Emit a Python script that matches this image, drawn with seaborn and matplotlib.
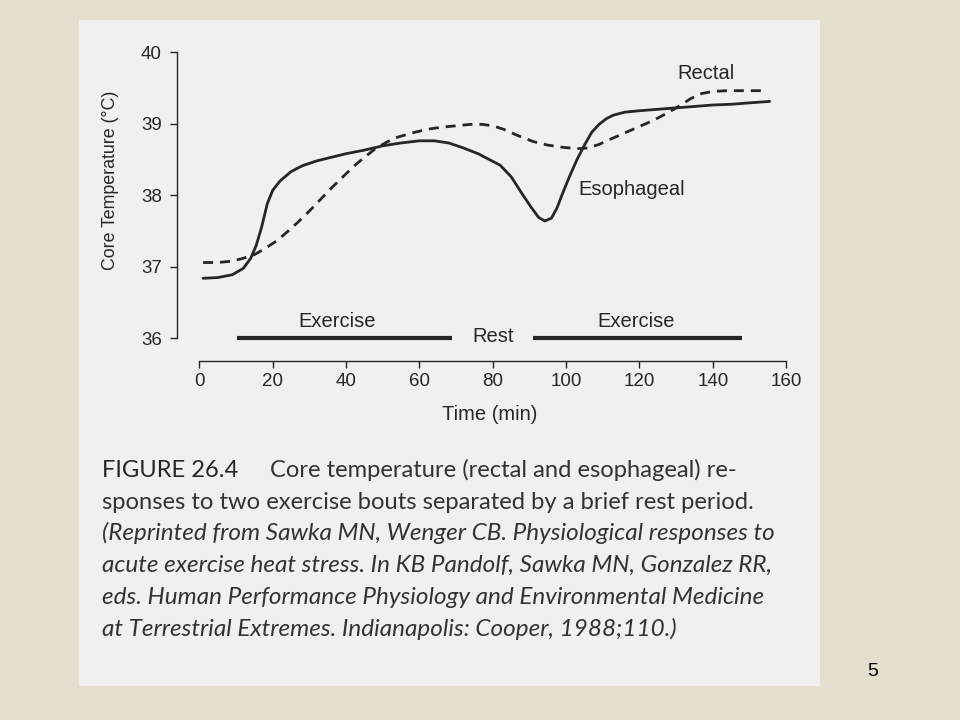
import matplotlib
matplotlib.use("Agg")
import matplotlib.pyplot as plt
import seaborn as sns

# esophageal temperature (solid line)
esoph_time = [1, 5, 9, 12, 14, 15.5, 17, 18.5, 20, 22, 25, 28, 32, 36, 40, 45, 50, 55,
              60, 64, 68, 72, 76, 79, 82, 85, 88, 90.5, 92.5, 94.2, 96, 97.5, 99, 101,
              103, 105, 107, 109, 111, 113, 116, 120, 125, 130, 135, 140, 145, 150, 155.5]
esoph_temp = [36.84, 36.85, 36.89, 36.98, 37.12, 37.30, 37.56, 37.88, 38.07, 38.20, 38.33,
              38.41, 38.48, 38.53, 38.58, 38.63, 38.69, 38.73, 38.76, 38.76, 38.73, 38.66,
              38.58, 38.50, 38.42, 38.26, 38.02, 37.83, 37.69, 37.64, 37.68, 37.82, 38.02,
              38.27, 38.50, 38.70, 38.88, 38.99, 39.07, 39.12, 39.16, 39.18, 39.20, 39.22,
              39.24, 39.26, 39.27, 39.29, 39.31]

# rectal temperature (dashed line)
rectal_time = [1, 5, 9, 12, 15, 18, 21, 24, 27, 30, 33, 36, 39, 42, 45, 48, 51, 54, 58,
               62, 66, 70, 74, 77, 80, 83, 87, 91, 95, 99, 103, 106, 109, 112, 116, 120,
               124, 128, 131, 134, 137, 140, 144, 150, 154]
rectal_temp = [37.06, 37.06, 37.08, 37.12, 37.17, 37.26, 37.36, 37.49, 37.63, 37.78, 37.94,
               38.10, 38.25, 38.40, 38.53, 38.65, 38.74, 38.81, 38.87, 38.92, 38.95, 38.97,
               38.99, 38.99, 38.97, 38.92, 38.83, 38.75, 38.70, 38.67, 38.65, 38.66, 38.71,
               38.78, 38.87, 38.96, 39.05, 39.16, 39.25, 39.35, 39.42, 39.45, 39.46, 39.46,
               39.46]

x_ticks = [0, 20, 40, 60, 80, 100, 120, 140, 160]
y_ticks = [36, 37, 38, 39, 40]

# exercise bouts drawn as bars along 36 degC
exercise_start = [10.2, 90.9]
exercise_end = [68.8, 147.9]
period_labels = ["Exercise", "Rest", "Exercise"]
period_x = [37.5, 80.1, 119]
period_y = [36.23, 36.02, 36.23]

caption_head = "FIGURE 26.4"
caption_first = "Core temperature (rectal and esophageal) re-"
caption_second = "sponses to two exercise bouts separated by a brief rest period."
caption_italic = [
    "(Reprinted from Sawka MN, Wenger CB. Physiological responses to",
    "acute exercise heat stress. In KB Pandolf, Sawka MN, Gonzalez RR,",
    "eds. Human Performance Physiology and Environmental Medicine",
    "at Terrestrial Extremes. Indianapolis: Cooper, 1988;110.)",
]

sns.set_theme(style="ticks")
plt.rcParams['font.family'] = ['Liberation Sans', 'DejaVu Sans']

ink = "#262626"
fig = plt.figure(figsize=(9.6, 7.2), dpi=100, facecolor="#e5dfcd")

# scanned page panel
panel = fig.add_axes([79 / 960, 34 / 720, 741 / 960, 666 / 720])
panel.set_facecolor("#f0f0f0")
panel.set_xticks([])
panel.set_yticks([])
for s in panel.spines.values():
    s.set_visible(False)

ax = fig.add_axes([170 / 960, 350 / 720, 630 / 960, 330 / 720])
ax.patch.set_alpha(0)

sns.lineplot(x=esoph_time, y=esoph_temp, ax=ax, color=ink, lw=2.0, estimator=None)
sns.lineplot(x=rectal_time, y=rectal_temp, ax=ax, color=ink, lw=2.0, estimator=None,
             linestyle=(0, (3.6, 2.5)))

ax.hlines([36] * len(exercise_start), exercise_start, exercise_end, color=ink, lw=3)
for lab, x, y in zip(period_labels, period_x, period_y):
    ax.text(x, y, lab, ha="center", va="center", fontsize=14.5, color=ink)

ax.text(138.1, 39.70, "Rectal", ha="center", va="center", fontsize=14.5, color=ink)
ax.text(103.3, 38.08, "Esophageal", ha="left", va="center", fontsize=14.5, color=ink)

ax.set_xlim(-8.02, 163.79)
ax.set_ylim(35.559, 40.168)
sns.despine(ax=ax)
ax.spines['left'].set_position(('data', -6.1))
ax.spines['left'].set_bounds(36, 40)
ax.spines['bottom'].set_position(('data', 35.69))
ax.spines['bottom'].set_bounds(0, 160)
for s in ["left", "bottom"]:
    ax.spines[s].set_color(ink)
    ax.spines[s].set_linewidth(1.0)

ax.set_xticks(x_ticks)
ax.set_yticks(y_ticks)
ax.tick_params(axis="both", direction="out", length=5, width=1.0, colors=ink, labelsize=13.5)
ax.tick_params(axis="y", pad=6)
ax.tick_params(axis="x", pad=4)

ax.set_xlabel("Time (min)", fontsize=14.5, color=ink)
ax.xaxis.set_label_coords(0.508, -0.136)
ax.xaxis.label.set_va("center")
ax.set_ylabel("Core Temperature (°C)", fontsize=12.8, color=ink)
ax.yaxis.set_label_coords(-0.0952, 0.5758)
ax.yaxis.label.set_va("center")
ax.yaxis.label.set_ha("center")

# caption, sized to the widths of the scanned lines
cap_font = ['Lato', 'DejaVu Sans']
cap_color = "#333333"
renderer = fig.canvas.get_renderer()


def fit(t, width_px):
    w = t.get_window_extent(renderer).width
    return t.get_fontsize() * width_px / w


baselines = [477 + 31.7 * i for i in range(6)]
t_head = fig.text(101.7 / 960, 1 - baselines[0] / 720, caption_head, family=cap_font,
                  fontsize=18, color="#262626", va="baseline")
t_first = fig.text(270 / 960, 1 - baselines[0] / 720, caption_first, family=cap_font,
                   fontsize=18, color=cap_color, va="baseline")
t_second = fig.text(101.7 / 960, 1 - baselines[1] / 720, caption_second, family=cap_font,
                    fontsize=18, color=cap_color, va="baseline")
size_reg = (fit(t_first, 489.6) + fit(t_second, 649) + fit(t_head, 130)) / 3
for t in [t_head, t_first, t_second]:
    t.set_fontsize(size_reg)

italic_texts = []
for i, line in enumerate(caption_italic):
    italic_texts.append(fig.text(101.7 / 960, 1 - baselines[2 + i] / 720, line, family=cap_font,
                                 style="italic", fontsize=18, color=cap_color, va="baseline"))
size_it = (fit(italic_texts[0], 672) + fit(italic_texts[1], 669)) / 2
for t in italic_texts:
    t.set_fontsize(size_it)

fig.text(873 / 960, 1 - 672 / 720, "5", fontsize=14, ha="center", va="center", color="black")

fig.savefig("out.png", dpi=100, facecolor=fig.get_facecolor())
